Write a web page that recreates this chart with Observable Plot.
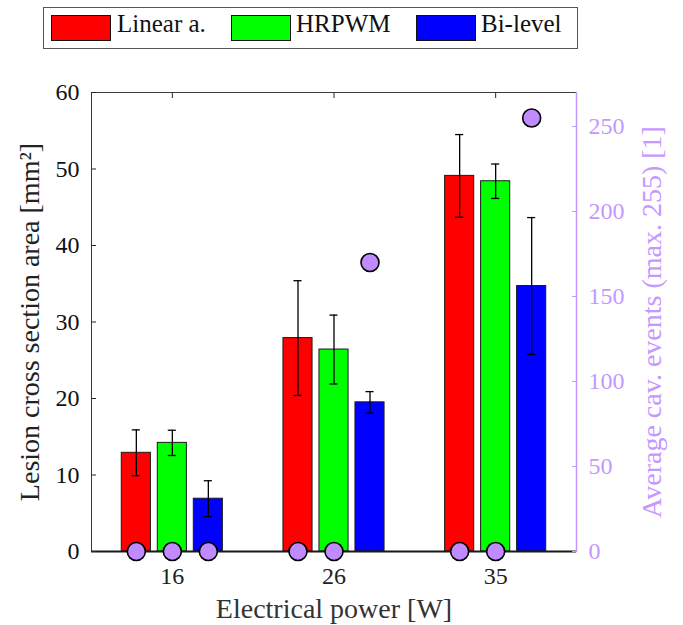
<!DOCTYPE html>
<html><head><meta charset="utf-8">
<script src="https://cdn.jsdelivr.net/npm/d3@7"></script>
<script src="https://cdn.jsdelivr.net/npm/@observablehq/plot@0.6"></script>
<style>
body{margin:0;background:#fff;}
#wrap{position:relative;width:683px;height:625px;font-family:"Liberation Serif",serif;overflow:hidden;}
#legendbox{position:absolute;left:43px;top:7px;width:535px;height:42px;border:1px solid #555;box-sizing:border-box;}
.sw{position:absolute;top:15px;width:60px;height:26px;border:1px solid #111;box-sizing:border-box;}
.lt{position:absolute;top:11px;font-size:25px;line-height:25px;color:#111;white-space:nowrap;}
.chart{position:absolute;left:0;top:56px;}
</style></head>
<body>
<div id="wrap"></div>
<script>
// ---- data ----
const powers = ["16", "26", "35"];
const series = ["Linear a.", "HRPWM", "Bi-level"];
const seriesColors = ["#ff0000", "#00ff00", "#0000ff"];
const linearMean = [12.9, 27.9, 49.1];
const hrpwmMean = [14.2, 26.4, 48.4];
const bilevelMean = [6.9, 19.5, 34.7];
const linearErr = [3.0, 7.5, 5.4];
const hrpwmErr = [1.65, 4.5, 2.25];
const bilevelErr = [2.35, 1.4, 8.95];
const linearCav = [0, 0, 0];
const hrpwmCav = [0, 0, 0];
const bilevelCav = [0, 170, 255];
const leftTicks = [0, 10, 20, 30, 40, 50, 60];
const rightTicks = [0, 50, 100, 150, 200, 250];

const means = [linearMean, hrpwmMean, bilevelMean];
const errs = [linearErr, hrpwmErr, bilevelErr];
const cavs = [linearCav, hrpwmCav, bilevelCav];

// group layout in x-scale units (one unit per power group)
const barStep = 0.2227, barHalf = 0.09, capHalf = 0.025;
const rows = [];
series.forEach((s, j) => powers.forEach((p, i) => {
  rows.push({power: p, series: s, mean: means[j][i], err: errs[j][i], cav: cavs[j][i],
             xc: i + 0.5 + (j - 1) * barStep});
}));
const groupCenters = powers.map((p, i) => i + 0.5);

const purple = "#c597ff";
const dotFill = "#bf8bff";
const common = {
  width: 683, height: 569,
  marginLeft: 91, marginRight: 107, marginTop: 36, marginBottom: 74,
  x: {domain: [0, 3], axis: null},
};

const main = Plot.plot({
  ...common,
  style: {fontFamily: "Liberation Serif", fontSize: "24px", color: "#262626", background: "white"},
  y: {domain: [0, 60]},
  color: {domain: series, range: seriesColors},
  marks: [
    Plot.rectY(rows, {x1: d => d.xc - barHalf, x2: d => d.xc + barHalf, y1: 0, y2: "mean",
      fill: "series", stroke: "#1a1a1a", strokeWidth: 1}),
    Plot.ruleX(rows, {x: "xc", y1: d => d.mean - d.err, y2: d => d.mean + d.err, stroke: "black", strokeWidth: 1.3}),
    Plot.ruleY(rows, {y: d => d.mean + d.err, x1: d => d.xc - capHalf, x2: d => d.xc + capHalf, stroke: "black", strokeWidth: 1.3}),
    Plot.ruleY(rows, {y: d => d.mean - d.err, x1: d => d.xc - capHalf, x2: d => d.xc + capHalf, stroke: "black", strokeWidth: 1.3}),
    Plot.frame({stroke: "#3a3a3a", strokeWidth: 1}),
    Plot.ruleY([0], {stroke: "#1a1a1a", strokeWidth: 2}),
    Plot.axisY({anchor: "left", ticks: leftTicks, tickSize: 5, insetLeft: 5, tickPadding: 12, label: null, fill: "#111"}),
    Plot.axisX({anchor: "bottom", ticks: groupCenters, tickFormat: (d, i) => powers[i], tickSize: 5, insetBottom: 5, tickPadding: 15, label: null, fill: "#222"}),
    Plot.axisX({anchor: "top", ticks: groupCenters, tickFormat: () => "", tickSize: 5, insetTop: 5, label: null}),
    Plot.text(["Lesion cross section area [mm²]"], {text: d => d, frameAnchor: "left", rotate: -90, dx: -61, fontSize: 28, textAnchor: "middle", lineAnchor: "middle", fill: "#222"}),
    Plot.text(["Electrical power [W]"], {text: d => d, frameAnchor: "bottom", dy: 66, fontSize: 28, textAnchor: "middle", lineAnchor: "bottom", fill: "#333"})
  ]
});

const overlay = Plot.plot({
  ...common,
  style: {fontFamily: "Liberation Serif", fontSize: "24px", color: purple, background: "transparent"},
  y: {domain: [0, 270]},
  marks: [
    Plot.frame({anchor: "right", stroke: purple, strokeWidth: 1.5}),
    Plot.axisY({anchor: "right", ticks: rightTicks, tickSize: 5, insetRight: 5, tickPadding: 12, label: null, stroke: purple, fill: purple}),
    Plot.dot(rows, {x: "xc", y: "cav", r: 9, fill: dotFill, stroke: "black", strokeWidth: 1.6}),
    Plot.text(["Average cav. events (max. 255) [1]"], {text: d => d, frameAnchor: "right", rotate: -90, dx: 76, fontSize: 28, textAnchor: "middle", lineAnchor: "middle", fill: purple})
  ]
});

const wrap = document.getElementById("wrap");
main.classList.add("chart");
overlay.classList.add("chart");
wrap.appendChild(main);
wrap.appendChild(overlay);

// legend
const box = document.createElement("div");
box.id = "legendbox";
wrap.appendChild(box);
const swLeft = [51, 231, 416], txtLeft = [117, 296, 481];
series.forEach((s, j) => {
  const sw = document.createElement("div");
  sw.className = "sw"; sw.style.left = swLeft[j] + "px"; sw.style.background = seriesColors[j];
  const t = document.createElement("div");
  t.className = "lt"; t.style.left = txtLeft[j] + "px"; t.textContent = s;
  wrap.appendChild(sw); wrap.appendChild(t);
});
</script>
</body></html>
